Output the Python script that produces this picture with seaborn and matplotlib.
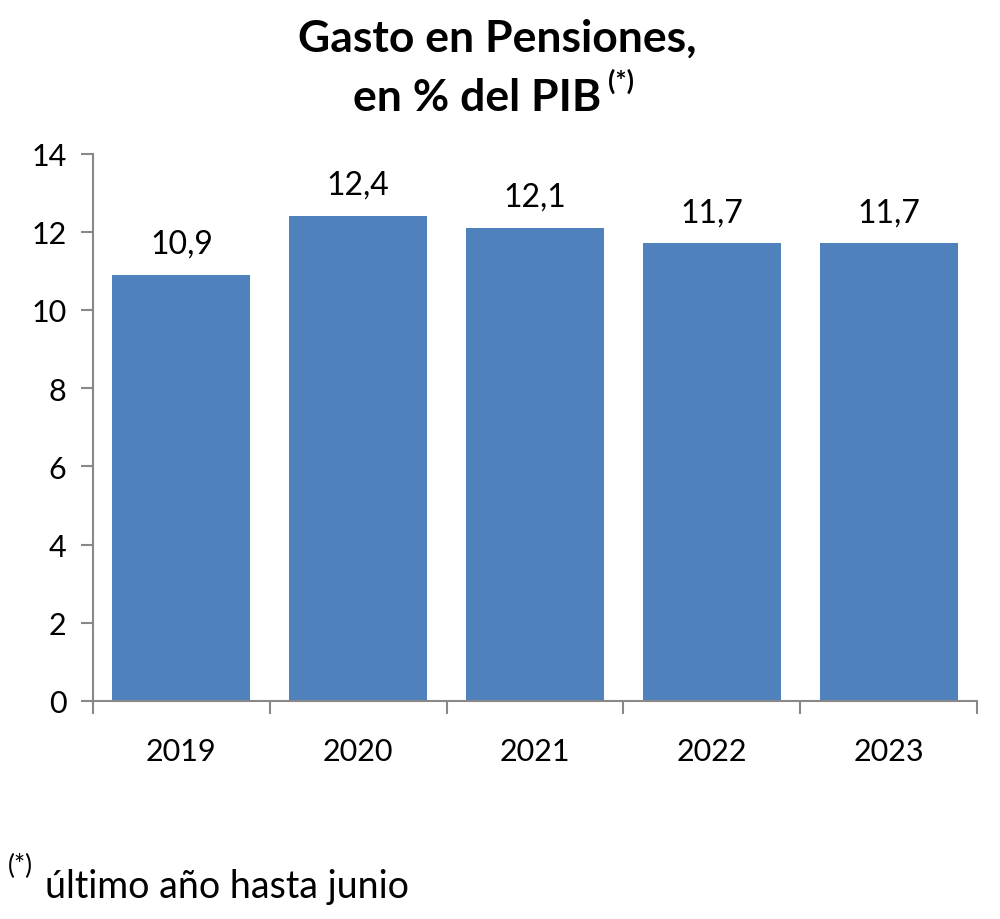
import numpy as np
import pandas as pd
import seaborn as sns
import matplotlib.pyplot as plt
from matplotlib.ticker import FixedLocator

years = ["2019", "2020", "2021", "2022", "2023"]
gasto = [10.9, 12.4, 12.1, 11.7, 11.7]
etiquetas = ["10,9", "12,4", "12,1", "11,7", "11,7"]
y_ticks = [0, 2, 4, 6, 8, 10, 12, 14]

sns.set_style("white")
plt.rcParams['font.family'] = ['Lato', 'DejaVu Sans']
plt.rcParams['text.color'] = 'black'
plt.rcParams['xtick.labelcolor'] = 'black'
plt.rcParams['ytick.labelcolor'] = 'black'

df = pd.DataFrame({"year": years, "gasto": gasto})

fig = plt.figure(figsize=(10, 9.2), dpi=100)
ax = fig.add_axes([0.093, 0.237, 0.884, 0.595])

sns.barplot(data=df, x="year", y="gasto", color="#4F81BD", saturation=1,
            width=0.78, ax=ax, edgecolor="none")

for i, (v, lab) in enumerate(zip(gasto, etiquetas)):
    ax.text(i, v + 0.42, lab, ha="center", va="bottom", fontsize=23, color="black")

ax.set_xlim(-0.5, len(years) - 0.5)
ax.set_ylim(0, 14)
ax.set_yticks(y_ticks)
ax.set_xlabel("")
ax.set_ylabel("")

ax.tick_params(axis="x", which="major", length=0, pad=26, labelsize=22, labelcolor="black")
ax.xaxis.set_minor_locator(FixedLocator(np.arange(-0.5, len(years), 1.0)))
ax.tick_params(axis="x", which="minor", length=9, width=1.5, color="#888888", direction="out", bottom=True)
ax.tick_params(axis="y", length=9, width=1.5, color="#888888", direction="out", left=True,
               labelsize=22, pad=10, labelcolor="black")

for s in ["top", "right"]:
    ax.spines[s].set_visible(False)
for s in ["left", "bottom"]:
    ax.spines[s].set_color("#888888")
    ax.spines[s].set_linewidth(1.5)

fig.text(0.497, 0.958, "Gasto en Pensiones,", ha="center", va="center",
         fontsize=32, fontweight="bold")
linea2 = fig.text(0.477, 0.894, "en % del PIB", ha="center", va="center",
                  fontsize=32, fontweight="bold")
ax.annotate("(*)", xy=(1, 0.58), xycoords=linea2, xytext=(5, 0),
            textcoords="offset points", ha="left", va="bottom",
            fontsize=19, fontweight="bold", annotation_clip=False)

fig.text(0.008, 0.058, "(*)", ha="left", va="center", fontsize=19)
fig.text(0.045, 0.036, "último año hasta junio", ha="left", va="center", fontsize=27)

fig.savefig("out.png", dpi=100)
